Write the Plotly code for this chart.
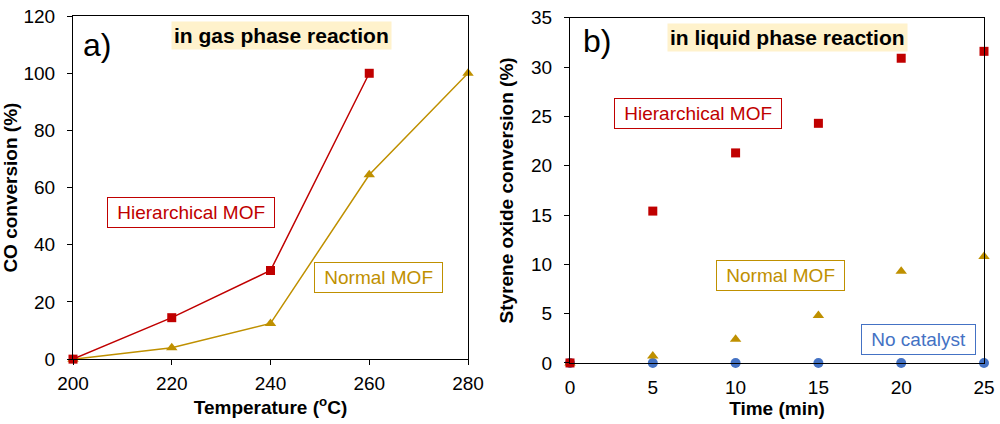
import plotly.graph_objects as go

# panel a) gas phase
temp_hier = [200, 220, 240, 260]
conv_hier = [0, 14.5, 31, 100]
temp_norm = [200, 220, 240, 260, 280]
conv_norm = [0, 4, 12.5, 64.5, 100]

# panel b) liquid phase
time_min = [0, 5, 10, 15, 20, 25]
so_hier = [0, 15.4, 21.3, 24.3, 30.9, 31.6]
so_norm = [0, 0.7, 2.4, 4.8, 9.3, 10.8]
so_none = [0, 0, 0, 0, 0, 0]

RED = '#C00000'
GOLD = '#BF9000'
BLUE = '#4472C4'
FONT = 'Liberation Sans, Arial, sans-serif'

fig = go.Figure()

fig.add_trace(go.Scatter(x=temp_norm, y=conv_norm, mode='lines+markers', cliponaxis=False,
                         line=dict(color=GOLD, width=1.5),
                         marker=dict(symbol='triangle-up', size=10, color=GOLD),
                         xaxis='x', yaxis='y'))
fig.add_trace(go.Scatter(x=temp_hier, y=conv_hier, mode='lines+markers', cliponaxis=False,
                         line=dict(color=RED, width=1.5),
                         marker=dict(symbol='square', size=9, color=RED),
                         xaxis='x', yaxis='y'))

fig.add_trace(go.Scatter(x=time_min, y=so_none, mode='markers', cliponaxis=False,
                         marker=dict(symbol='circle', size=10, color=BLUE),
                         xaxis='x2', yaxis='y2'))
fig.add_trace(go.Scatter(x=time_min, y=so_norm, mode='markers', cliponaxis=False,
                         marker=dict(symbol='triangle-up', size=10, color=GOLD),
                         xaxis='x2', yaxis='y2'))
fig.add_trace(go.Scatter(x=time_min, y=so_hier, mode='markers', cliponaxis=False,
                         marker=dict(symbol='square', size=9, color=RED),
                         xaxis='x2', yaxis='y2'))

axis_common = dict(showgrid=False, zeroline=False, showline=True, linecolor='black',
                   linewidth=1.2, mirror=True, automargin=False, ticklabeloverflow='allow',
                   tickfont=dict(size=19, color='black', family=FONT),
                   ticks='outside', ticklen=5, tickcolor='black')
title_font = dict(size=19, color='black', family=FONT)

fig.update_layout(
    width=1000, height=424,
    margin=dict(l=0, r=0, t=0, b=0),
    paper_bgcolor='white', plot_bgcolor='white',
    showlegend=False,
    font=dict(family=FONT),
    xaxis=dict(axis_common, domain=[0.073, 0.468], range=[200, 280], dtick=20,
               ticklabelstandoff=2,
               title=dict(text='<b>Temperature (<sup>o</sup>C)</b>', font=title_font, standoff=6)),
    yaxis=dict(axis_common, domain=[0.153, 0.962], range=[0, 120], dtick=20,
               ticklabelstandoff=8,
               title=dict(text='<b>CO conversion (%)</b>', font=title_font, standoff=6)),
    xaxis2=dict(axis_common, domain=[0.570, 0.984], range=[0, 25], dtick=5, ticks='',
                anchor='y2', ticklabelstandoff=7,
                title=dict(text='<b>Time (min)</b>', font=title_font, standoff=4)),
    yaxis2=dict(axis_common, domain=[0.144, 0.958], range=[0, 35], dtick=5, anchor='x2',
                ticklabelstandoff=8,
                title=dict(text='<b>Styrene oxide conversion (%)</b>', font=title_font, standoff=12)),
)


def box_label(text, x, y, color, xref, yref):
    fig.add_annotation(text='&nbsp;' + text + '&nbsp;', x=x, y=y, xref=xref, yref=yref,
                       showarrow=False, font=dict(size=19, color=color, family=FONT),
                       bordercolor=color, borderwidth=1, borderpad=4, bgcolor='white')


def highlight(text, x, y, xref, yref):
    fig.add_annotation(text='<b>' + text + '</b>', x=x, y=y, xref=xref, yref=yref,
                       showarrow=False, font=dict(size=21, color='black', family=FONT),
                       bgcolor='#FFF2CC', borderpad=2)


def panel_tag(text, x, y, xref, yref):
    fig.add_annotation(text=text, x=x, y=y, xref=xref, yref=yref, showarrow=False,
                       font=dict(size=32, color='black', family=FONT))


panel_tag('a)', 204.9, 110, 'x', 'y')
highlight('in gas phase reaction', 242.3, 113.2, 'x', 'y')
box_label('Hierarchical MOF', 223.9, 51.3, RED, 'x', 'y')
box_label('Normal MOF', 261.9, 28.5, GOLD, 'x', 'y')

panel_tag('b)', 1.6, 32.6, 'x2', 'y2')
highlight('in liquid phase reaction', 13.16, 32.97, 'x2', 'y2')
box_label('Hierarchical MOF', 7.73, 25.3, RED, 'x2', 'y2')
box_label('Normal MOF', 12.74, 8.88, GOLD, 'x2', 'y2')
box_label('No catalyst', 21.07, 2.33, BLUE, 'x2', 'y2')

# drop the default 8px page margin so the figure sits at the window corner
fig.write_html('out.html', config={'displayModeBar': False},
               post_script="document.body.style.margin='0px';")
